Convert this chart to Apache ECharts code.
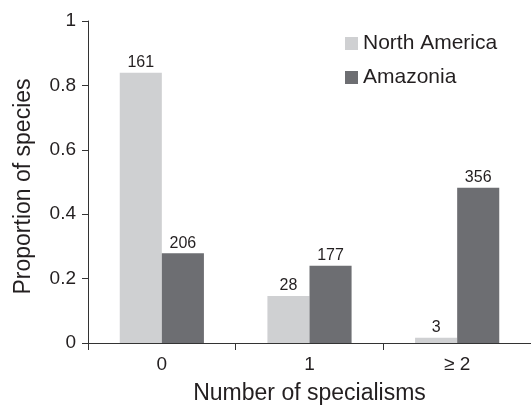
<!DOCTYPE html>
<html>
<head>
<meta charset="utf-8">
<script src="https://cdn.jsdelivr.net/npm/echarts@6/dist/echarts.min.js"></script>
<style>
  html, body { margin: 0; padding: 0; background: #ffffff; }
  #chart { width: 531px; height: 406px; }
</style>
</head>
<body>
<div id="chart"></div>
<script>
// Categories along the x axis
const categories = ['0', '1', '\u2265 2'];

// Proportion of species per number of specialisms
const northAmerica = [0.839, 0.146, 0.016];
const amazonia = [0.279, 0.240, 0.482];

// Species counts printed above each bar
const northAmericaCounts = [161, 28, 3];
const amazoniaCounts = [206, 177, 356];

const yTicks = { min: 0, max: 1, interval: 0.2 };

const textColor = '#231f20';
const fontFamily = '"Liberation Sans", Arial, sans-serif';

const chart = echarts.init(document.getElementById('chart'), null, { renderer: 'canvas' });

function countLabel(counts) {
  return {
    show: true,
    position: 'top',
    distance: 2,
    color: textColor,
    fontFamily: fontFamily,
    fontSize: 16,
    formatter: (p) => String(counts[p.dataIndex])
  };
}

chart.setOption({
  animation: false,
  backgroundColor: '#ffffff',
  textStyle: { fontFamily: fontFamily, color: textColor },
  grid: {
    left: 88,
    right: 0,
    top: 21,
    bottom: 63,
    containLabel: false,
    outerBoundsMode: 'none'
  },
  legend: {
    orient: 'vertical',
    left: 340,
    top: 28,
    icon: 'rect',
    itemWidth: 13,
    itemHeight: 13,
    itemGap: 13,
    textStyle: { fontSize: 21, color: textColor, fontFamily: fontFamily },
    data: ['North America', 'Amazonia']
  },
  xAxis: {
    type: 'category',
    data: categories,
    name: 'Number of specialisms',
    nameLocation: 'middle',
    nameGap: 39,
    nameTextStyle: { fontSize: 23, color: textColor, fontFamily: fontFamily },
    axisLine: { lineStyle: { color: '#333333', width: 1 } },
    axisTick: { show: true, length: 7, alignWithLabel: false, lineStyle: { color: '#333333' } },
    axisLabel: { fontSize: 19, color: textColor, margin: 12, fontFamily: fontFamily }
  },
  yAxis: {
    type: 'value',
    min: yTicks.min,
    max: yTicks.max,
    interval: yTicks.interval,
    name: 'Proportion of species',
    nameLocation: 'middle',
    nameGap: 53,
    nameTextStyle: {
      fontSize: 23,
      color: textColor,
      fontFamily: fontFamily,
      padding: [0, 9, 0, 0]
    },
    axisLine: { show: true, lineStyle: { color: '#333333', width: 1 } },
    axisTick: { show: true, length: 6, lineStyle: { color: '#333333' } },
    axisLabel: { fontSize: 19, color: textColor, margin: 12, fontFamily: fontFamily },
    splitLine: { show: false }
  },
  series: [
    {
      name: 'North America',
      type: 'bar',
      data: northAmerica,
      barGap: '0%',
      barCategoryGap: '43%',
      itemStyle: { color: '#cfd0d2' },
      label: countLabel(northAmericaCounts)
    },
    {
      name: 'Amazonia',
      type: 'bar',
      data: amazonia,
      barGap: '0%',
      barCategoryGap: '43%',
      itemStyle: { color: '#6d6e72' },
      label: countLabel(amazoniaCounts)
    }
  ]
});
</script>
</body>
</html>
